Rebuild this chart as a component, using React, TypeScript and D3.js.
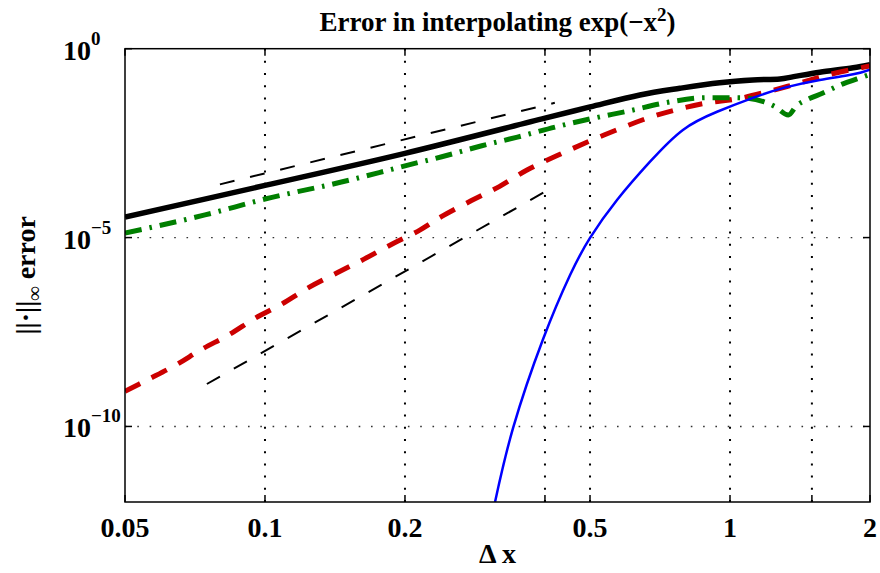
import React from "react";
import * as d3 from "d3";

// ---------- data ----------
const xTickValues = [0.05, 0.1, 0.2, 0.4, 0.5, 1, 1.5, 2];
const xTickLabels = ["0.05", "0.1", "0.2", "", "0.5", "1", "", "2"];
const yTickValues = [1, 1e-5, 1e-10];
const yTickExponents = ["0", "\u22125", "\u221210"];

const blackX = [0.05, 0.1, 0.2, 0.4, 0.5, 0.64, 0.78, 0.95, 1.12, 1.28, 1.37, 1.56, 1.84, 2.0];
const blackErr = [3.5e-5, 2.4e-4, 1.7e-3, 1.45e-2, 2.87e-2, 5.96e-2, 8.95e-2, 0.126, 0.149, 0.158, 0.182, 0.238, 0.314, 0.38];

const redX = [0.05, 0.056, 0.0644, 0.0731, 0.0837, 0.0954, 0.108, 0.1243, 0.1426, 0.1633, 0.1878, 0.2152, 0.24, 0.278, 0.319, 0.366, 0.425, 0.4895, 0.568, 0.659, 0.764, 0.892, 1.035, 1.22, 1.41, 1.64, 1.92, 2.0];
const redErr = [8.51e-10, 1.74e-9, 4.27e-9, 1.1e-8, 2.69e-8, 7.41e-8, 1.66e-7, 4.79e-7, 1.15e-6, 2.69e-6, 6.76e-6, 1.58e-5, 3.63e-5, 9.55e-5, 2.24e-4, 6.17e-4, 1.48e-3, 3.24e-3, 6.92e-3, 1.4e-2, 2.4e-2, 3.66e-2, 4.68e-2, 7.59e-2, 0.123, 0.209, 0.316, 0.347];

const greenX = [0.05, 0.0589, 0.0743, 0.1, 0.146, 0.176, 0.2, 0.24, 0.2925, 0.349, 0.422, 0.5, 0.61, 0.736, 0.892, 1.05, 1.18, 1.25, 1.335, 1.39, 1.47, 1.58, 1.75, 1.875, 2.0];
const greenErr = [1.32e-5, 2.04e-5, 3.98e-5, 1.05e-4, 2.95e-4, 5.25e-4, 7.94e-4, 1.38e-3, 2.69e-3, 4.57e-3, 8.51e-3, 1.38e-2, 2.29e-2, 3.82e-2, 5.06e-2, 5.01e-2, 3.98e-2, 2.92e-2, 1.76e-2, 3.09e-2, 4.57e-2, 6.61e-2, 0.1175, 0.158, 0.209];

const blueX = [0.3124, 0.3415, 0.396, 0.453, 0.5, 0.572, 0.673, 0.792, 0.938, 1.12, 1.31, 1.56, 1.84, 2.0];
const blueErr = [1e-12, 9e-11, 2.0e-8, 1.02e-6, 9.8e-6, 1e-4, 1.02e-3, 7.08e-3, 2.14e-2, 5.0e-2, 9.3e-2, 0.149, 0.21, 0.28];

const refAX = [0.08, 0.42];
const refAErr = [2.56e-4, 3.7e-2];
const refBX = [0.075, 0.42];
const refBErr = [1.33e-9, 2.3e-4];

// ---------- layout ----------
const W = 880;
const H = 573;
const L = 125;
const R = 870;
const T = 48.7;
const B = 502;
const FONT = "'Liberation Serif', 'Times New Roman', Times, serif";

export default function App() {
  const x = d3.scaleLog().domain([0.05, 2]).range([L, R]);
  const y = d3.scaleLog().domain([1e-12, 1]).range([B, T]);
  const smooth = d3
    .line<[number, number]>()
    .x((d) => x(d[0]))
    .y((d) => y(d[1]))
    .curve(d3.curveCatmullRom.alpha(0.5));
  const natural = d3
    .line<[number, number]>()
    .x((d) => x(d[0]))
    .y((d) => y(d[1]))
    .curve(d3.curveNatural);
  const mono = d3
    .line<[number, number]>()
    .x((d) => x(d[0]))
    .y((d) => y(d[1]))
    .curve(d3.curveMonotoneX);
  const straight = d3
    .line<[number, number]>()
    .x((d) => x(d[0]))
    .y((d) => y(d[1]));
  const pts = (xs: number[], es: number[]) => xs.map((v, i) => [v, es[i]] as [number, number]);

  return (
    <svg
      width={W}
      height={H}
      style={{ position: "absolute", left: 0, top: 0, background: "#fff" }}
      fontFamily={FONT}
      fontWeight="bold"
    >
      <defs>
        <clipPath id="plotclip">
          <rect x={L} y={T} width={R - L} height={B - T} />
        </clipPath>
      </defs>
      <rect x={0} y={0} width={W} height={H} fill="#fff" />

      {/* grid */}
      {xTickValues.slice(1, -1).map((t, i) => (
        <line
          key={"gx" + i}
          x1={x(t)}
          x2={x(t)}
          y1={B}
          y2={T}
          stroke="#000"
          strokeWidth={2}
          strokeDasharray="2 10.2"
        />
      ))}
      {yTickValues.slice(1).map((t, i) => (
        <line
          key={"gy" + i}
          x1={L}
          x2={R}
          y1={y(t)}
          y2={y(t)}
          stroke="#333"
          strokeWidth={1.4}
          strokeDasharray="1.6 10.7"
        />
      ))}

      {/* series */}
      <g clipPath="url(#plotclip)" fill="none">
        <path d={smooth(pts(blackX, blackErr)) || ""} stroke="#000" strokeWidth={5.5} />
        <path d={smooth(pts(redX, redErr)) || ""} stroke="#cc0000" strokeWidth={5} strokeDasharray="17 13" />
        <path d={mono(pts(greenX, greenErr)) || ""} stroke="#007f00" strokeWidth={5} strokeDasharray="17 8 2.5 8" />
        <path d={natural(pts(blueX, blueErr)) || ""} stroke="#0000ff" strokeWidth={2.5} />
        <path d={straight(pts(refAX, refAErr)) || ""} stroke="#000" strokeWidth={2} strokeDasharray="15 16" />
        <path d={straight(pts(refBX, refBErr)) || ""} stroke="#000" strokeWidth={2} strokeDasharray="15 16" />
      </g>

      {/* axes box and ticks */}
      <rect x={L} y={T} width={R - L} height={B - T} fill="none" stroke="#000" strokeWidth={1.5} />
      {xTickValues.map((t, i) => (
        <g key={"xt" + i} stroke="#000" strokeWidth={1.5}>
          <line x1={x(t)} x2={x(t)} y1={B} y2={B - 7} />
          <line x1={x(t)} x2={x(t)} y1={T} y2={T + 7} />
        </g>
      ))}
      {yTickValues.map((t, i) => (
        <g key={"yt" + i} stroke="#000" strokeWidth={1.5}>
          <line x1={L} x2={L + 7} y1={y(t)} y2={y(t)} />
          <line x1={R} x2={R - 7} y1={y(t)} y2={y(t)} />
        </g>
      ))}

      {/* tick labels */}
      {xTickValues.map((t, i) =>
        xTickLabels[i] ? (
          <text key={"xl" + i} x={x(t)} y={537} textAnchor="middle" fontSize={28} fill="#000">
            {xTickLabels[i]}
          </text>
        ) : null
      )}
      {yTickValues.map((t, i) => (
        <text key={"yl" + i} x={63} y={y(t) + 11} fontSize={28} fill="#000">
          10
          <tspan dy={-15} fontSize={19}>
            {yTickExponents[i]}
          </tspan>
        </text>
      ))}

      {/* title */}
      <text x={(L + R) / 2} y={31} textAnchor="middle" fontSize={27} fill="#000">
        Error in interpolating exp({"\u2212"}x
        <tspan dy={-10} fontSize={19}>
          2
        </tspan>
        <tspan dy={10}>)</tspan>
      </text>

      {/* x label */}
      <text x={(L + R) / 2} y={563} textAnchor="middle" fontSize={28} fill="#000">
        {"\u0394 x"}
      </text>

      {/* y label */}
      <text transform={`translate(35,${(T + B) / 2}) rotate(-90)`} textAnchor="middle" fontSize={28} fill="#000">
        {"||\u00b7||"}
        <tspan dy={6} fontSize={20}>
          {"\u221e"}
        </tspan>
        <tspan dy={-6}>{" error"}</tspan>
      </text>
    </svg>
  );
}
